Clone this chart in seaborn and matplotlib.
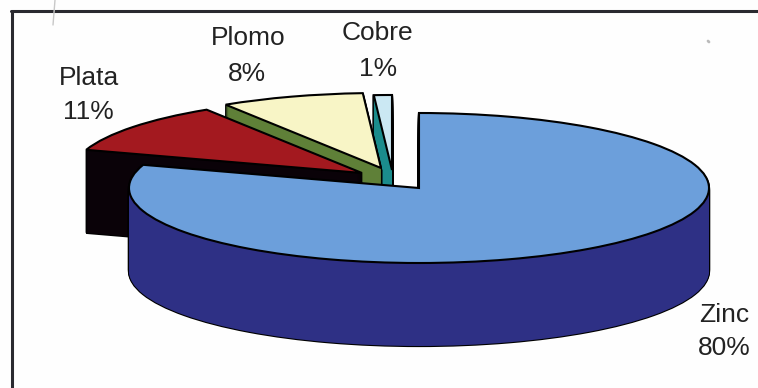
import matplotlib
matplotlib.use("Agg")
import matplotlib.pyplot as plt
from matplotlib.lines import Line2D
import seaborn as sns

sns.set_theme(style="white")
plt.rcParams['font.family'] = ['Liberation Sans', 'DejaVu Sans']

# Share of each metal, clockwise from twelve o'clock
metals = ["Zinc", "Plata", "Plomo", "Cobre"]
shares = [80, 11, 8, 1]
percent_labels = ["80%", "11%", "8%", "1%"]

top_colors = ["#6C9FDB", "#A3191F", "#F8F5C6", "#CBE8F3"]
side_colors = ["#2E3085", "#0A0208", "#5F8038", "#1B8C8C"]

# Pie geometry in pixels of the 758x388 canvas
W, H = 758, 388
RX, RY = 290, 75
CX, CY = 419, 188
DEPTH = 83
# Where each slice's apex sits (exploded slices are pulled out of the disc)
apex_px = {"Zinc": (419, 188), "Plata": (362, 173), "Plomo": (381, 168), "Cobre": (392, 170)}
# Back-to-front painting order
paint_order = ["Cobre", "Plomo", "Plata", "Zinc"]

fig = plt.figure(figsize=(W / 100, H / 100), dpi=100, facecolor="#FEFEFE")
ax = fig.add_axes([0, 0, 1, 1])


def draw_slice(idx, px, py, color, edge, lw):
    """Draw one slice of the pie with its apex at pixel (px, py)."""
    center = ((px - CX) / RX, (CY - py) / RY)
    wedges, _ = ax.pie(shares, startangle=90, counterclock=False, center=center,
                       colors=[color] * len(shares),
                       wedgeprops=dict(edgecolor=edge, linewidth=lw))
    for k, w in enumerate(wedges):
        if k != idx:
            w.remove()


for name in paint_order:
    i = metals.index(name)
    px, py = apex_px[name]
    # Black silhouette of the extrusion, then its coloured fill, then the top face
    for d in range(DEPTH, 0, -1):
        draw_slice(i, px, py + d, "black", "black", 1.6)
    for d in range(DEPTH, 0, -1):
        draw_slice(i, px, py + d, side_colors[i], "none", 0)
    draw_slice(i, px, py, top_colors[i], "black", 1.5)

# Stretch the circle into the flattened ellipse of the tilted disc
ax.set_aspect("auto")
ax.set_xlim(-CX / RX, (W - CX) / RX)
ax.set_ylim((CY - H) / RY, CY / RY)
ax.set_axis_off()


def to_fig(x, y):
    return x / W, 1 - y / H


name_pos = {"Zinc": (724, 315), "Plata": (89, 78), "Plomo": (248, 38), "Cobre": (377, 33)}
pct_pos = {"Zinc": (724, 348), "Plata": (88, 112), "Plomo": (247, 74), "Cobre": (378, 69)}
for i, name in enumerate(metals):
    fx, fy = to_fig(*name_pos[name])
    fig.text(fx, fy, name, ha="center", va="center", fontsize=19, color="#222222")
    fx, fy = to_fig(*pct_pos[name])
    fig.text(fx, fy, percent_labels[i], ha="center", va="center", fontsize=19, color="#222222")

# Frame: only the top and left rules are on the sheet
for xs, ys in (((11, W), (11, 11)), ((12, 12), (11, H))):
    fx, fy = zip(*(to_fig(x, y) for x, y in zip(xs, ys)))
    fig.add_artist(Line2D(fx, fy, transform=fig.transFigure, color="#2A2A30", linewidth=2.2))

# Small marks left on the paper
fig.add_artist(Line2D(*zip(to_fig(55, 0), to_fig(53, 25)), transform=fig.transFigure,
                      color="#C8C8C8", linewidth=1))
fig.add_artist(Line2D(*zip(to_fig(708, 41), to_fig(709, 42)), transform=fig.transFigure,
                      color="#BBBBBB", linewidth=2))

fig.savefig("out.png", dpi=100, facecolor=fig.get_facecolor())
